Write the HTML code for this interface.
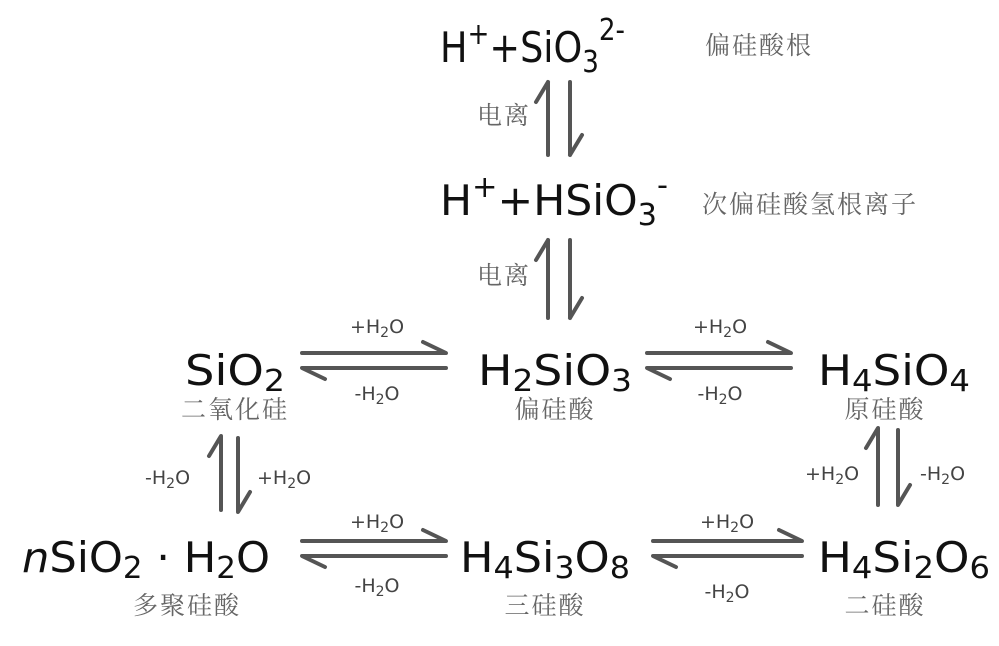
<!DOCTYPE html>
<html><head><meta charset="utf-8"><style>
html,body{margin:0;padding:0;background:#fff;width:999px;height:646px;overflow:hidden}
svg{display:block}
.f{font-family:"DejaVu Sans","Liberation Sans",sans-serif;font-size:42px;fill:#111}
.s{font-size:30px}
.c{font-family:"Liberation Sans","Noto Serif CJK SC","Noto Sans CJK SC",serif;font-size:25px;letter-spacing:2px;fill:#666}
.l{font-family:"DejaVu Sans","Liberation Sans",sans-serif;font-size:19px;fill:#444}
.ls{font-size:14px}
.a{stroke:#555;stroke-width:4;fill:none;stroke-linecap:round;stroke-linejoin:round}
</style></head><body>
<svg width="999" height="646" viewBox="0 0 999 646" xmlns="http://www.w3.org/2000/svg">
<text class="f" x="440" y="62" textLength="185" lengthAdjust="spacingAndGlyphs">H<tspan class="s" dy="-18">+</tspan><tspan dy="18">+SiO</tspan><tspan class="s" dy="10">3</tspan><tspan class="s" dy="-32">2-</tspan></text>
<text class="c" x="705" y="54">偏硅酸根</text>
<text class="c" x="477" y="124">电离</text>
<path class="a" d="M548 155 V82 M548 82 L536 102 M570 82 V155 M570 155 L582 135"/>
<text class="f" x="440" y="215" textLength="228" lengthAdjust="spacingAndGlyphs">H<tspan class="s" dy="-18">+</tspan><tspan dy="18">+HSiO</tspan><tspan class="s" dy="10">3</tspan><tspan class="s" dy="-30">-</tspan></text>
<text class="c" x="702" y="213">次偏硅酸氢根离子</text>
<text class="c" x="477" y="284">电离</text>
<path class="a" d="M548 318 V240 M548 240 L536 260 M570 240 V318 M570 318 L582 298"/>
<text class="f" x="185" y="385" textLength="100" lengthAdjust="spacingAndGlyphs">SiO<tspan class="s" dy="6">2</tspan></text>
<text class="c" x="235" y="418" text-anchor="middle">二氧化硅</text>
<text class="f" x="478" y="385" textLength="154" lengthAdjust="spacingAndGlyphs">H<tspan class="s" dy="6">2</tspan><tspan dy="-6">SiO</tspan><tspan class="s" dy="6">3</tspan></text>
<text class="c" x="555" y="418" text-anchor="middle">偏硅酸</text>
<text class="f" x="818" y="385" textLength="152" lengthAdjust="spacingAndGlyphs">H<tspan class="s" dy="6">4</tspan><tspan dy="-6">SiO</tspan><tspan class="s" dy="6">4</tspan></text>
<text class="c" x="885" y="418" text-anchor="middle">原硅酸</text>
<path class="a" d="M302 353 H446 L423 342 M446 368 H302 L325 379"/>
<text class="l" x="377" y="333" text-anchor="middle">+H<tspan class="ls" dy="4">2</tspan><tspan dy="-4">O</tspan></text>
<text class="l" x="377" y="400" text-anchor="middle">-H<tspan class="ls" dy="4">2</tspan><tspan dy="-4">O</tspan></text>
<path class="a" d="M647 353 H791 L768 342 M791 368 H647 L670 379"/>
<text class="l" x="720" y="333" text-anchor="middle">+H<tspan class="ls" dy="4">2</tspan><tspan dy="-4">O</tspan></text>
<text class="l" x="720" y="400" text-anchor="middle">-H<tspan class="ls" dy="4">2</tspan><tspan dy="-4">O</tspan></text>
<path class="a" d="M221 510 V436 L209 456 M238 438 V512 L250 492"/>
<text class="l" x="145" y="484">-H<tspan class="ls" dy="4">2</tspan><tspan dy="-4">O</tspan></text>
<text class="l" x="257" y="484">+H<tspan class="ls" dy="4">2</tspan><tspan dy="-4">O</tspan></text>
<path class="a" d="M878 505 V428 L866 448 M898 430 V505 L910 485"/>
<text class="l" x="805" y="480">+H<tspan class="ls" dy="4">2</tspan><tspan dy="-4">O</tspan></text>
<text class="l" x="920" y="480">-H<tspan class="ls" dy="4">2</tspan><tspan dy="-4">O</tspan></text>
<text class="f" x="22" y="572" textLength="248" lengthAdjust="spacingAndGlyphs"><tspan font-style="italic">n</tspan>SiO<tspan class="s" dy="6">2</tspan><tspan dy="-6"> · H</tspan><tspan class="s" dy="6">2</tspan><tspan dy="-6">O</tspan></text>
<text class="c" x="187" y="614" text-anchor="middle">多聚硅酸</text>
<text class="f" x="460" y="572" textLength="170" lengthAdjust="spacingAndGlyphs">H<tspan class="s" dy="6">4</tspan><tspan dy="-6">Si</tspan><tspan class="s" dy="6">3</tspan><tspan dy="-6">O</tspan><tspan class="s" dy="6">8</tspan></text>
<text class="c" x="545" y="614" text-anchor="middle">三硅酸</text>
<text class="f" x="818" y="572" textLength="172" lengthAdjust="spacingAndGlyphs">H<tspan class="s" dy="6">4</tspan><tspan dy="-6">Si</tspan><tspan class="s" dy="6">2</tspan><tspan dy="-6">O</tspan><tspan class="s" dy="6">6</tspan></text>
<text class="c" x="885" y="614" text-anchor="middle">二硅酸</text>
<path class="a" d="M302 541 H446 L423 530 M446 556 H302 L325 567"/>
<text class="l" x="377" y="528" text-anchor="middle">+H<tspan class="ls" dy="4">2</tspan><tspan dy="-4">O</tspan></text>
<text class="l" x="377" y="592" text-anchor="middle">-H<tspan class="ls" dy="4">2</tspan><tspan dy="-4">O</tspan></text>
<path class="a" d="M653 541 H802 L779 530 M802 556 H653 L676 567"/>
<text class="l" x="727" y="528" text-anchor="middle">+H<tspan class="ls" dy="4">2</tspan><tspan dy="-4">O</tspan></text>
<text class="l" x="727" y="598" text-anchor="middle">-H<tspan class="ls" dy="4">2</tspan><tspan dy="-4">O</tspan></text>
</svg>
</body></html>
